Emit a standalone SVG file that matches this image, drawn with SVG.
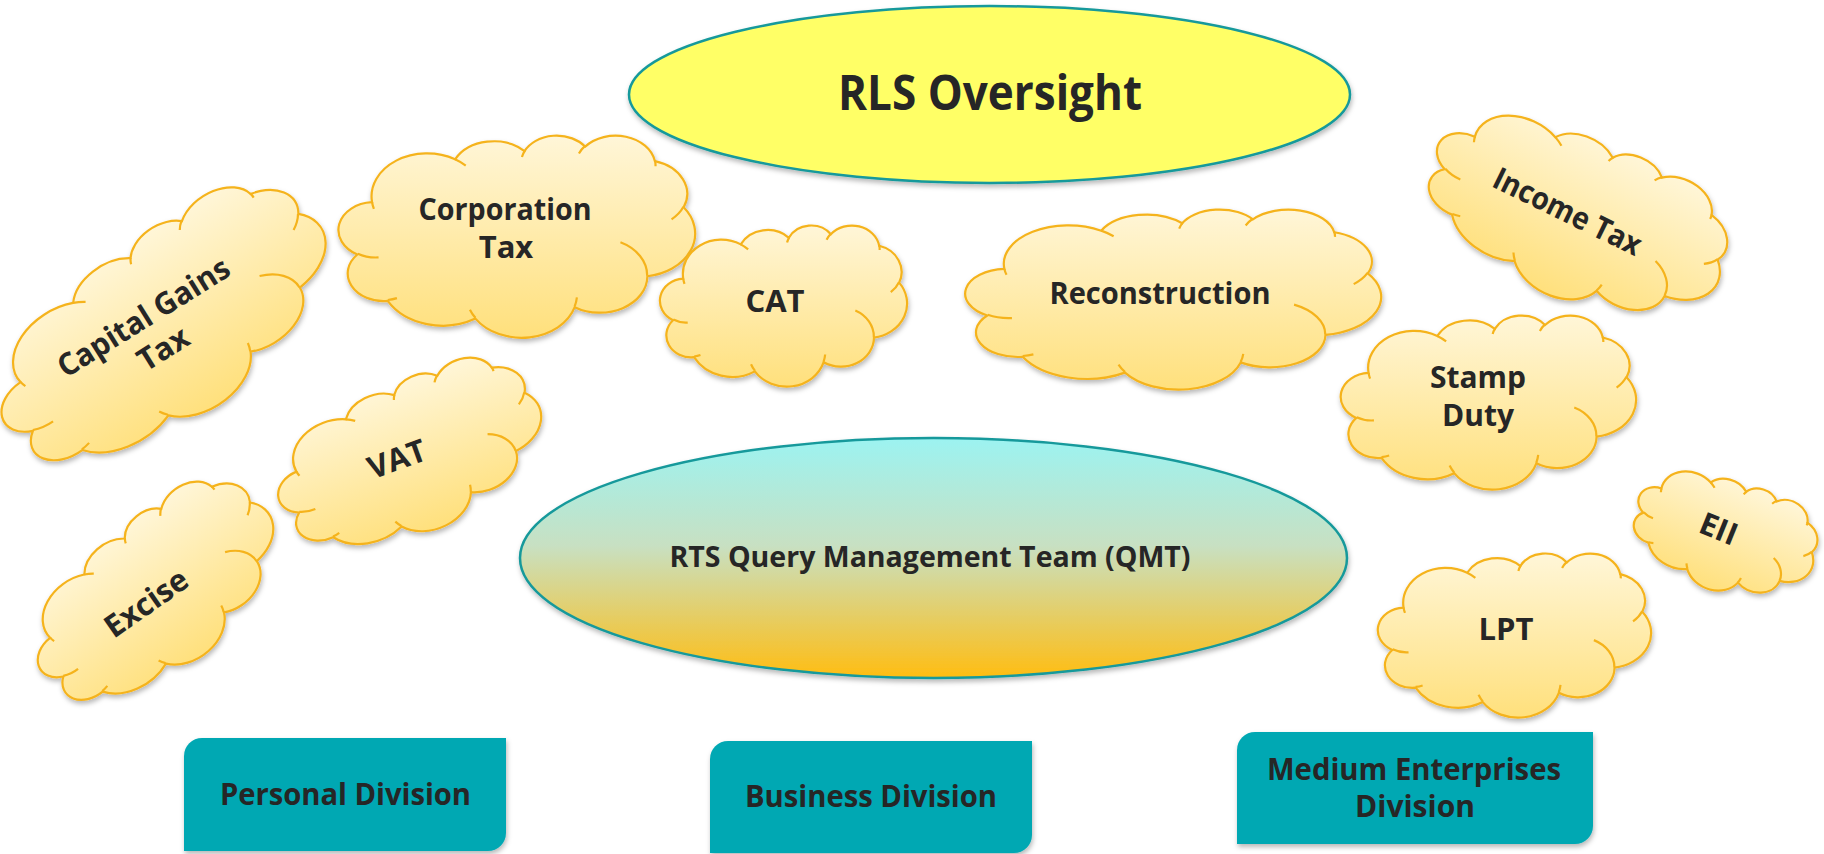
<svg xmlns="http://www.w3.org/2000/svg" xmlns:xlink="http://www.w3.org/1999/xlink" width="1824" height="854" viewBox="0 0 1824 854">
<defs>
<style>
.t{font-family:"Open Sans","Liberation Sans",sans-serif;font-weight:700;fill:#262626;text-anchor:middle}
.cloud{fill:url(#cg)}
.div{fill:#02a8b3}
</style>
<linearGradient id="cg" x1="0" y1="0" x2="0" y2="1">
<stop offset="0" stop-color="#fff6d8"/>
<stop offset="1" stop-color="#ffe07c"/>
</linearGradient>
<linearGradient id="qg" x1="0" y1="0" x2="0" y2="1">
<stop offset="0" stop-color="#9cf3f1"/>
<stop offset="0.45" stop-color="#c8e0c2"/>
<stop offset="1" stop-color="#ffbd12"/>
</linearGradient>
<filter id="sh" x="-10%" y="-10%" width="120%" height="130%">
<feDropShadow dx="1" dy="3" stdDeviation="2.5" flood-color="#000" flood-opacity="0.28"/>
</filter>
<path id="co" vector-effect="non-scaling-stroke" stroke="#f5b31c" stroke-width="2.2" d="M9.03,33.26 A15.63,21.27 0 0 1 32.42,12.04 A12.345,16.822 0 0 1 51.98,7.95 A10.104,13.762 0 0 1 69.06,5.74 A11.243,15.266 0 0 1 88.70,12.91 A12.345,16.836 0 0 1 96.80,35.79 A15.683,21.343 0 0 1 86.59,69.92 A13.391,18.211 0 0 1 66.11,85.22 A15.630,21.331 0 0 1 38.15,90.90 A17.870,24.405 0 0 1 13.44,82.11 A10.093,13.699 0 0 1 4.89,59.15 A10.058,13.762 0 0 1 9.03,33.26 Z"/>
<path id="ci" vector-effect="non-scaling-stroke" fill="none" stroke="#f5b31c" stroke-width="2.2" d="M10.86,60.59 A10.058,13.762 0 0 1 5.00,58.75 M16.04,80.78 A10.093,13.699 0 0 1 13.47,81.67 M38.14,90.49 A15.630,21.331 0 0 1 36.60,86.46 M66.73,80.44 A15.630,21.331 0 0 1 66.11,84.86 M79.00,53.13 A13.391,18.211 0 0 1 86.53,69.65 M96.75,35.54 A12.345,16.836 0 0 1 93.40,41.74 M88.71,12.56 A11.243,15.266 0 0 1 88.89,15.48 M67.31,9.15 A11.243,15.266 0 0 1 69.03,5.41 M51.25,10.93 A10.104,13.762 0 0 1 52.08,7.71 M32.41,12.02 A15.632,21.273 0 0 1 35.42,15.14 M9.55,36.55 A15.632,21.273 0 0 1 9.03,33.27"/>
</defs>
<rect width="1824" height="854" fill="#ffffff"/>

<g id="rls-oversight">
<ellipse cx="989.5" cy="94.5" rx="360.5" ry="88.5" fill="#ffff66" stroke="#16999b" stroke-width="2.5" filter="url(#sh)"/>
<text class="t" x="990" y="110" font-size="48" textLength="304" lengthAdjust="spacingAndGlyphs">RLS Oversight</text>
</g>

<g id="qmt">
<ellipse cx="933.5" cy="558" rx="413.5" ry="120" fill="url(#qg)" stroke="#16999b" stroke-width="2.5" filter="url(#sh)"/>
<text class="t" x="930" y="567" font-size="28" textLength="521" lengthAdjust="spacingAndGlyphs">RTS Query Management Team (QMT)</text>
</g>

<g id="cloud-corporation-tax">
<g filter="url(#sh)"><g transform="translate(517.5,236) scale(3.55,2.02) translate(-50,-50)"><use href="#co" class="cloud"/><use href="#ci"/></g></g>
<text class="t" x="505" y="220" font-size="31" textLength="173" lengthAdjust="spacingAndGlyphs">Corporation</text>
<text class="t" x="506" y="258" font-size="31">Tax</text>
</g>

<g id="cloud-cat">
<g filter="url(#sh)"><g transform="translate(784,305.5) scale(2.46,1.61) translate(-50,-50)"><use href="#co" class="cloud"/><use href="#ci"/></g></g>
<text class="t" x="775" y="312" font-size="31">CAT</text>
</g>

<g id="cloud-reconstruction">
<g filter="url(#sh)"><g transform="translate(1174,299) scale(4.14,1.80) translate(-50,-50)"><use href="#co" class="cloud"/><use href="#ci"/></g></g>
<text class="t" x="1160" y="304" font-size="31" textLength="221" lengthAdjust="spacingAndGlyphs">Reconstruction</text>
</g>

<g id="cloud-capital-gains-tax">
<g filter="url(#sh)"><g transform="translate(165.5,328) rotate(-32) scale(3.70,1.85) translate(-50,-50)"><use href="#co" class="cloud"/><use href="#ci"/></g></g>
<g transform="translate(165.5,328) rotate(-32)">
<text class="t" x="-13" y="-10" font-size="31" textLength="197" lengthAdjust="spacingAndGlyphs">Capital Gains</text>
<text class="t" x="-13" y="27" font-size="31">Tax</text>
</g>
</g>

<g id="cloud-vat">
<g filter="url(#sh)"><g transform="translate(411,457) rotate(-20) scale(2.75,1.52) translate(-50,-50)"><use href="#co" class="cloud"/><use href="#ci"/></g></g>
<g transform="translate(411,457) rotate(-20)">
<text class="t" x="-14" y="8" font-size="31">VAT</text>
</g>
</g>

<g id="cloud-excise">
<g filter="url(#sh)"><g transform="translate(157,594) rotate(-35) scale(2.75,1.52) translate(-50,-50)"><use href="#co" class="cloud"/><use href="#ci"/></g></g>
<g transform="translate(157,594) rotate(-35)">
<text class="t" x="-14" y="12" font-size="31">Excise</text>
</g>
</g>

<g id="cloud-income-tax">
<g filter="url(#sh)"><g transform="translate(1577,217) rotate(26) scale(3.10,1.64) translate(-50,-50)"><use href="#co" class="cloud"/><use href="#ci"/></g></g>
<g transform="translate(1577,217) rotate(26)">
<text class="t" x="-11" y="10" font-size="31" textLength="161" lengthAdjust="spacingAndGlyphs">Income Tax</text>
</g>
</g>

<g id="cloud-stamp-duty">
<g filter="url(#sh)"><g transform="translate(1489,402) scale(2.94,1.74) translate(-50,-50)"><use href="#co" class="cloud"/><use href="#ci"/></g></g>
<text class="t" x="1478" y="388" font-size="30">Stamp</text>
<text class="t" x="1478" y="426" font-size="30">Duty</text>
</g>

<g id="cloud-eii">
<g filter="url(#sh)"><g transform="translate(1725,534.5) rotate(22) scale(1.86,1.13) translate(-50,-50)"><use href="#co" class="cloud"/><use href="#ci"/></g></g>
<g transform="translate(1725,534.5) rotate(22)">
<text class="t" x="-8" y="8" font-size="31">EII</text>
</g>
</g>

<g id="cloud-lpt">
<g filter="url(#sh)"><g transform="translate(1515,635) scale(2.72,1.64) translate(-50,-50)"><use href="#co" class="cloud"/><use href="#ci"/></g></g>
<text class="t" x="1506" y="640" font-size="31">LPT</text>
</g>

<g id="personal-division">
<path class="div" filter="url(#sh)" d="M202,738 H506 V833 A18,18 0 0 1 488,851 H184 V756 A18,18 0 0 1 202,738 Z"/>
<text class="t" x="345.5" y="805" font-size="30" textLength="251" lengthAdjust="spacingAndGlyphs">Personal Division</text>
</g>

<g id="business-division">
<path class="div" filter="url(#sh)" d="M728,741 H1032 V835 A18,18 0 0 1 1014,853 H710 V759 A18,18 0 0 1 728,741 Z"/>
<text class="t" x="871" y="807" font-size="30" textLength="252" lengthAdjust="spacingAndGlyphs">Business Division</text>
</g>

<g id="medium-enterprises-division">
<path class="div" filter="url(#sh)" d="M1255,732 H1593 V826 A18,18 0 0 1 1575,844 H1237 V750 A18,18 0 0 1 1255,732 Z"/>
<text class="t" x="1414" y="780" font-size="30" textLength="294" lengthAdjust="spacingAndGlyphs">Medium Enterprises</text>
<text class="t" x="1415" y="817" font-size="30">Division</text>
</g>

<g id="connectors"></g>
</svg>
